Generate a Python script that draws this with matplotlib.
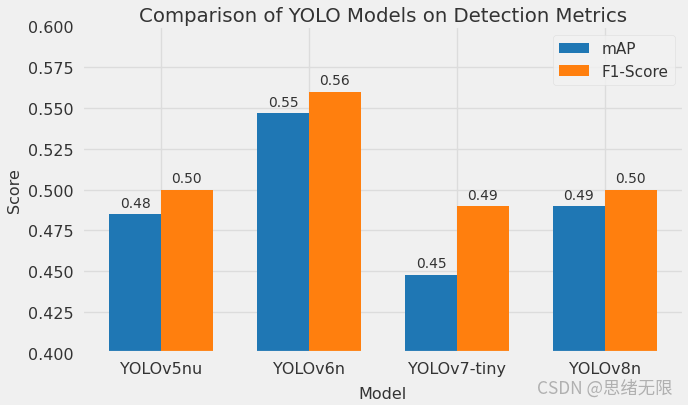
import numpy as np
import matplotlib.pyplot as plt

plt.style.use('fivethirtyeight')
plt.rcParams['font.family'] = ['DejaVu Sans', 'Noto Sans CJK SC']
plt.rcParams['grid.color'] = '#dcdcdc'

# Datos
modelos = ['YOLOv5nu', 'YOLOv6n', 'YOLOv7-tiny', 'YOLOv8n']
map_vals = [0.485, 0.547, 0.448, 0.490]
f1_vals = [0.500, 0.560, 0.490, 0.500]

x = np.arange(len(modelos))
ancho = 0.35

fig, ax = plt.subplots(figsize=(6.88, 4.06), dpi=100)
fig.subplots_adjust(left=0.119, right=0.994, bottom=0.128, top=0.933)

barras1 = ax.bar(x - ancho / 2, map_vals, ancho, label='mAP', color='#1f77b4')
barras2 = ax.bar(x + ancho / 2, f1_vals, ancho, label='F1-Score', color='#ff7f0e')

# Etiquetas sobre las barras
for barras in (barras1, barras2):
    for b in barras:
        h = b.get_height()
        ax.annotate(f'{h:.2f}', xy=(b.get_x() + b.get_width() / 2, h),
                    xytext=(0, 3), textcoords='offset points',
                    ha='center', va='bottom', fontsize=10, color='#333333')

ax.set_ylim(0.4, 0.6)
ax.set_xticks(x)
ax.set_xticklabels(modelos)
ax.tick_params(axis='both', labelsize=11.5, colors='#333333', pad=6)
ax.set_title('Comparison of YOLO Models on Detection Metrics', fontsize=14.2, color='#333333', pad=4)
ax.set_xlabel('Model', fontsize=11.5, color='#333333', labelpad=7)
ax.set_ylabel('Score', fontsize=11.5, color='#333333', labelpad=4)
leg = ax.legend(loc='upper right', fontsize=11, labelcolor='#333333',
                facecolor='#f2f2f2', edgecolor='#dddddd', borderaxespad=0.6)

# Marca de agua
fig.text(0.977, 0.044, 'CSDN @思绪无限', ha='right', va='center', fontsize=12.5,
         color='#b0b0b0', family=['Noto Sans CJK SC', 'DejaVu Sans'])

plt.savefig('out.png', dpi=100, facecolor=fig.get_facecolor())
